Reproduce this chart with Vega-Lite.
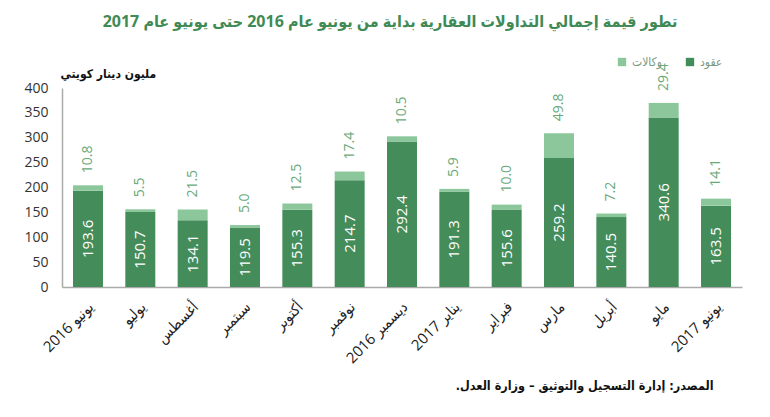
{
  "$schema": "https://vega.github.io/schema/vega-lite/v6.json",
  "width": 680,
  "height": 199,
  "autosize": {"type": "none"},
  "padding": {"left": 62, "top": 88, "right": 28, "bottom": 130},
  "background": "white",
  "config": {"view": {"stroke": null}, "font": "Open Sans, DejaVu Sans"},
  "title": {
    "text": "تطور قيمة إجمالي التداولات العقارية بداية من يونيو عام  2016 حتى يونيو عام  2017",
    "anchor": "middle",
    "frame": "group",
    "dx": -12,
    "offset": 26,
    "fontSize": 16,
    "fontWeight": "bold",
    "color": "#3f8a55",
    "font": "Open Sans, DejaVu Sans Condensed"
  },
  "data": {
    "values": [
      {"month": "يونيو 2016", "type": "عقود", "value": 193.6},
      {"month": "يونيو 2016", "type": "وكالات", "value": 10.8},
      {"month": "يوليو", "type": "عقود", "value": 150.7},
      {"month": "يوليو", "type": "وكالات", "value": 5.5},
      {"month": "أغسطس", "type": "عقود", "value": 134.1},
      {"month": "أغسطس", "type": "وكالات", "value": 21.5},
      {"month": "سبتمبر", "type": "عقود", "value": 119.5},
      {"month": "سبتمبر", "type": "وكالات", "value": 5.0},
      {"month": "أكتوبر", "type": "عقود", "value": 155.3},
      {"month": "أكتوبر", "type": "وكالات", "value": 12.5},
      {"month": "نوفمبر", "type": "عقود", "value": 214.7},
      {"month": "نوفمبر", "type": "وكالات", "value": 17.4},
      {"month": "ديسمبر 2016", "type": "عقود", "value": 292.4},
      {"month": "ديسمبر 2016", "type": "وكالات", "value": 10.5},
      {"month": "يناير 2017", "type": "عقود", "value": 191.3},
      {"month": "يناير 2017", "type": "وكالات", "value": 5.9},
      {"month": "فبراير", "type": "عقود", "value": 155.6},
      {"month": "فبراير", "type": "وكالات", "value": 10.0},
      {"month": "مارس", "type": "عقود", "value": 259.2},
      {"month": "مارس", "type": "وكالات", "value": 49.8},
      {"month": "أبريل", "type": "عقود", "value": 140.5},
      {"month": "أبريل", "type": "وكالات", "value": 7.2},
      {"month": "مايو", "type": "عقود", "value": 340.6},
      {"month": "مايو", "type": "وكالات", "value": 29.4},
      {"month": "يونيو 2017", "type": "عقود", "value": 163.5},
      {"month": "يونيو 2017", "type": "وكالات", "value": 14.1}
    ]
  },
  "encoding": {
    "x": {
      "field": "month",
      "type": "nominal",
      "sort": null,
      "scale": {"paddingInner": 0.427, "paddingOuter": 0.21},
      "axis": {
        "title": "المصدر: إدارة التسجيل والتوثيق – وزارة العدل.\u200f",
        "titleFont": "DejaVu Sans Condensed",
        "titleFontSize": 12.5,
        "titleFontWeight": "bold",
        "titleColor": "#111111",
        "titleAnchor": "end",
        "titleAlign": "right",
        "titleX": 651,
        "titleY": 98,
        "titleBaseline": "middle",
        "labelAngle": -45,
        "labelAlign": "right",
        "labelBaseline": "middle",
        "labelPadding": 17,
        "labelOffset": 3,
        "labelFontSize": 15,
        "labelFont": "Open Sans, DejaVu Sans Condensed",
        "labelColor": "#222222",
        "ticks": false,
        "domainColor": "#aaaaaa",
        "domainWidth": 1.5,
        "grid": false
      }
    }
  },
  "layer": [
    {
      "mark": {"type": "bar"},
      "encoding": {
        "y": {
          "field": "value",
          "type": "quantitative",
          "stack": "zero",
          "scale": {"domain": [0, 400], "nice": false},
          "axis": {
            "values": [0, 50, 100, 150, 200, 250, 300, 350, 400],
            "title": "مليون دينار كويتي",
            "titleFont": "DejaVu Sans Condensed",
            "titleFontSize": 12,
            "titleFontWeight": "bold",
            "titleColor": "#111111",
            "titleAngle": 0,
            "titleAlign": "left",
            "titleX": -2,
            "titleY": -15,
            "titleBaseline": "middle",
            "labelFontSize": 14,
            "labelColor": "#333333",
            "labelPadding": 14,
            "ticks": false,
            "grid": false,
            "domainColor": "#aaaaaa",
            "domainWidth": 1.5
          }
        },
        "color": {
          "field": "type",
          "type": "nominal",
          "scale": {"domain": ["وكالات", "عقود"], "range": ["#8cc79b", "#448c5a"]},
          "legend": {
            "title": null,
            "orient": "none",
            "legendX": 554,
            "legendY": -32,
            "direction": "horizontal",
            "symbolType": "square",
            "symbolSize": 70,
            "symbolStrokeWidth": 0,
            "labelFontSize": 12,
            "labelColor": "#7a9a80",
            "labelFont": "DejaVu Sans Condensed",
            "labelOffset": 4,
            "columnPadding": 22
          }
        },
        "order": {"field": "type", "sort": "ascending"}
      }
    },
    {
      "mark": {"type": "text", "angle": 270, "align": "left", "baseline": "middle", "dx": 12, "fontSize": 14, "color": "#6aaa7a"},
      "encoding": {
        "y": {"field": "value", "type": "quantitative", "stack": "zero", "scale": {"domain": [0, 400], "nice": false}, "axis": null},
        "order": {"field": "type", "sort": "ascending"},
        "text": {"condition": {"test": "datum.type === 'وكالات'", "field": "value", "type": "quantitative", "format": ".1f"}, "value": ""}
      }
    },
    {
      "transform": [{"filter": "datum.type === 'عقود'"}],
      "mark": {"type": "text", "angle": 270, "align": "center", "baseline": "middle", "fontSize": 15, "color": "white"},
      "encoding": {
        "y": {"field": "value", "type": "quantitative", "stack": null, "scale": {"domain": [0, 800], "nice": false}, "axis": null},
        "text": {"field": "value", "type": "quantitative", "format": ".1f"}
      }
    }
  ],
  "resolve": {"scale": {"y": "independent"}}
}
